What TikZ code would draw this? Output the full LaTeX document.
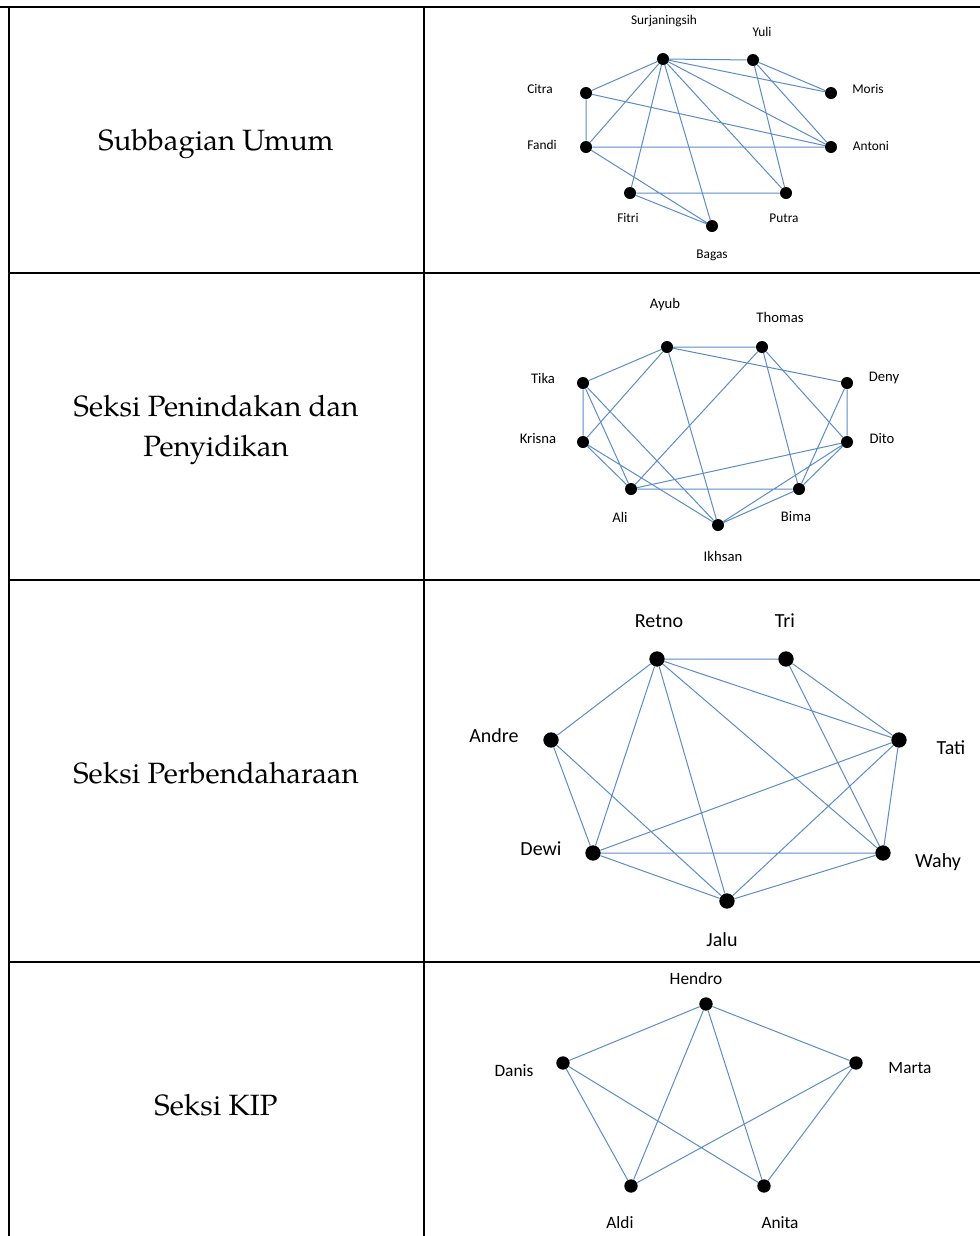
\documentclass[tikz,border=0pt]{standalone}
\usepackage{fontspec}
\setmainfont{TeX Gyre Pagella}
\newfontfamily\labelfont{Carlito}
\usetikzlibrary{positioning,backgrounds}
\definecolor{tieblue}{RGB}{92,140,200}

\begin{document}
\begin{tikzpicture}[
  x=0.75pt, y=-0.75pt,
  grid/.style={draw, line width=1.5pt},
  section/.style={align=center, font=\fontsize{22}{30}\selectfont},
  ppl/.style={circle, fill=black, inner sep=0pt, minimum size=#1},
  ppl/.default=9pt,
  tie/.style={draw=tieblue, line width=0.75pt},
  nm/.style={font=\labelfont\fontsize{#1}{#1}\selectfont, inner sep=0pt},
  nm/.default=10
]
\useasboundingbox (0,0) rectangle (980,1236);

% table
\draw[grid] (9,8) -- (9,1236);
\draw[grid] (424,8) -- (424,1236);
\draw[line width=2.2pt] (0,7) -- (512,7) (903,7) -- (980,7);
\draw[line width=1pt] (512,7) -- (903,7);
\draw[grid] (9,273) -- (980,273);
\draw[grid] (9,580) -- (980,580);
\draw[grid] (9,962) -- (476,962) (940,962) -- (980,962);
\draw[line width=1pt] (476,962) -- (940,962);

\node[section] (umum) at (216,144) {Subbagian Umum};
\node[section] (tindak) at (216,430) {Seksi Penindakan dan\\Penyidikan};
\node[section] (benda) at (216,773) {Seksi Perbendaharaan};
\node[section] (kip) at (216,1105) {Seksi KIP};

% Subbagian Umum
\node[ppl] (sur) at (663,59) {};
\node[ppl] (yul) at (753,60) {};
\node[ppl] (cit) at (586,93) {};
\node[ppl] (mor) at (831,93) {};
\node[ppl] (fan) at (586,147) {};
\node[ppl] (ant) at (831,147) {};
\node[ppl] (fit) at (630,193) {};
\node[ppl] (put) at (786,193) {};
\node[ppl] (bag) at (712,226) {};
\node[nm] (sur-l) at (664,21) {Surjaningsih};
\node[nm] (yul-l) at (762,32) {Yuli};
\node[nm] (cit-l) at (540,89) {Citra};
\node[nm] (mor-l) at (868,89) {Moris};
\node[nm] (fan-l) at (542,145) {Fandi};
\node[nm] (ant-l) at (871,146) {Antoni};
\node[nm] (fit-l) at (628,218) {Fitri};
\node[nm] (put-l) at (784,218) {Putra};
\node[nm] (bag-l) at (712,255) {Bagas};
\begin{scope}[on background layer]
\draw[tie] (sur) -- (yul) (sur) -- (mor) (sur) -- (ant) (sur) -- (put)
  (sur) -- (bag) (sur) -- (fit) (sur) -- (fan) (sur) -- (cit);
\draw[tie] (yul) -- (mor) (yul) -- (ant) (yul) -- (put);
\draw[tie] (cit) -- (fan) (cit) -- (ant) (fan) -- (ant) (fan) -- (bag)
  (fit) -- (put) (fit) -- (bag);
\end{scope}

% Seksi Penindakan dan Penyidikan
\node[ppl] (ayu) at (667,347) {};
\node[ppl] (tho) at (762,347) {};
\node[ppl] (tik) at (583,383) {};
\node[ppl] (den) at (847,383) {};
\node[ppl] (kri) at (583,442) {};
\node[ppl] (dit) at (847,442) {};
\node[ppl] (ali) at (631,489) {};
\node[ppl] (bim) at (799,489) {};
\node[ppl] (ikh) at (718,525) {};
\node[nm=11] (ayu-l) at (665,305) {Ayub};
\node[nm=11] (tho-l) at (780,317) {Thomas};
\node[nm=11] (tik-l) at (543,378) {Tika};
\node[nm=11] (den-l) at (884,378) {Deny};
\node[nm=11] (kri-l) at (538,439) {Krisna};
\node[nm=11] (dit-l) at (882,439) {Dito};
\node[nm=11] (ali-l) at (620,517) {Ali};
\node[nm=11] (bim-l) at (796,516) {Bima};
\node[nm=11] (ikh-l) at (723,556) {Ikhsan};
\begin{scope}[on background layer]
\draw[tie] (ayu) -- (tho) (ayu) -- (tik) (ayu) -- (kri) (ayu) -- (den)
  (ayu) -- (ikh);
\draw[tie] (tho) -- (ali) (tho) -- (bim) (tho) -- (dit);
\draw[tie] (tik) -- (kri) (tik) -- (ali) (tik) -- (ikh) (kri) -- (ali)
  (kri) -- (ikh);
\draw[tie] (den) -- (dit) (den) -- (bim) (dit) -- (ali) (dit) -- (bim)
  (dit) -- (ikh) (ali) -- (bim) (bim) -- (ikh);
\end{scope}

% Seksi Perbendaharaan
\node[ppl=11.5pt] (ret) at (657,659) {};
\node[ppl=11.5pt] (tri) at (786,659) {};
\node[ppl=11.5pt] (and) at (551,740) {};
\node[ppl=11.5pt] (tat) at (899,740) {};
\node[ppl=11.5pt] (dew) at (593,853) {};
\node[ppl=11.5pt] (wah) at (883,853) {};
\node[ppl=11.5pt] (jal) at (727,901) {};
\node[nm=15] (ret-l) at (659,621) {Retno};
\node[nm=15] (tri-l) at (785,621) {Tri};
\node[nm=15] (and-l) at (494,736) {Andre};
\node[nm=15] (tat-l) at (951,748) {Tati};
\node[nm=15] (dew-l) at (541,849) {Dewi};
\node[nm=15] (wah-l) at (938,862) {Wahy};
\node[nm=15] (jal-l) at (722,940) {Jalu};
\begin{scope}[on background layer]
\draw[tie] (ret) -- (tri) (ret) -- (and) (ret) -- (dew) (ret) -- (jal)
  (ret) -- (wah) (ret) -- (tat);
\draw[tie] (tri) -- (tat) (tri) -- (wah) (and) -- (dew) (and) -- (jal);
\draw[tie] (tat) -- (dew) (tat) -- (jal) (tat) -- (wah) (dew) -- (wah)
  (dew) -- (jal) (wah) -- (jal);
\end{scope}

% Seksi KIP
\node[ppl=10pt] (hen) at (706,1004) {};
\node[ppl=10pt] (dan) at (563,1063) {};
\node[ppl=10pt] (mar) at (856,1063) {};
\node[ppl=10pt] (ald) at (631,1186) {};
\node[ppl=10pt] (ani) at (764,1186) {};
\node[nm=13] (hen-l) at (696,979) {Hendro};
\node[nm=13] (dan-l) at (514,1071) {Danis};
\node[nm=13] (mar-l) at (910,1068) {Marta};
\node[nm=13] (ald-l) at (620,1223) {Aldi};
\node[nm=13] (ani-l) at (780,1223) {Anita};
\begin{scope}[on background layer]
\draw[tie] (hen) -- (dan) (hen) -- (mar) (hen) -- (ald) (hen) -- (ani);
\draw[tie] (dan) -- (ald) (dan) -- (ani) (mar) -- (ald) (mar) -- (ani);
\end{scope}
\end{tikzpicture}
\end{document}
